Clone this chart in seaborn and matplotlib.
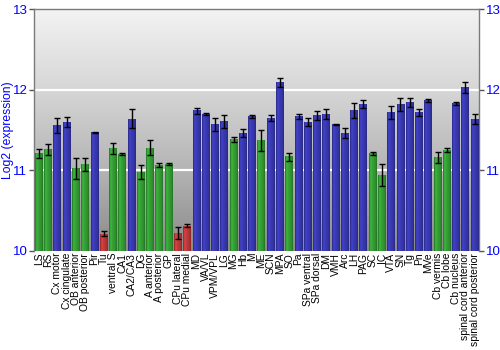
import numpy as np
import pandas as pd
import matplotlib
matplotlib.use("Agg")
import matplotlib.pyplot as plt
import seaborn as sns
from matplotlib.colors import LinearSegmentedColormap, to_rgb

# Brain regions, in plotting order
regions = [
    "LS", "RS", "Cx motor", "Cx cingulate", "OB anterior", "OB posterior", "Pir", "Tu",
    "ventral S", "CA1", "CA2/CA3", "DG", "A anterior", "A posterior", "GP",
    "CPu lateral", "CPu medial", "MD", "VA/VL", "VPM/VPL", "LG", "MG", "Hb", "M",
    "ME", "SCN", "MPA", "SO", "Pa", "SPa ventral", "SPa dorsal", "DM", "VMH", "Arc",
    "LH", "PAG", "SC", "IC", "VTA", "SN", "Tg", "Pn", "MVe", "Cb vermis", "Cb lobe",
    "Cb nucleus", "spinal cord anterior", "spinal cord posterior",
]

# Mean log2 expression per region
expression = [
    11.21, 11.26, 11.56, 11.60, 11.02, 11.07, 11.47, 10.21,
    11.27, 11.20, 11.64, 10.98, 11.28, 11.06, 11.08,
    10.22, 10.31, 11.74, 11.70, 11.57, 11.61, 11.38, 11.46, 11.67,
    11.37, 11.65, 12.09, 11.17, 11.67, 11.60, 11.68, 11.70, 11.57, 11.46,
    11.74, 11.82, 11.21, 10.94, 11.72, 11.82, 11.84, 11.72, 11.87, 11.16, 11.25,
    11.83, 12.03, 11.64,
]

# Standard error per region
sem = [
    0.060, 0.065, 0.095, 0.060, 0.130, 0.085, 0.005, 0.030,
    0.065, 0.015, 0.115, 0.085, 0.095, 0.025, 0.010,
    0.070, 0.017, 0.037, 0.012, 0.077, 0.080, 0.033, 0.050, 0.015,
    0.125, 0.033, 0.055, 0.050, 0.030, 0.050, 0.055, 0.065, 0.007, 0.065,
    0.090, 0.050, 0.020, 0.135, 0.077, 0.080, 0.058, 0.044, 0.020, 0.068, 0.025,
    0.015, 0.064, 0.064,
]

# Expression class of each region
level = [
    "green", "green", "blue", "blue", "green", "green", "blue", "red",
    "green", "green", "blue", "green", "green", "green", "green",
    "red", "red", "blue", "blue", "blue", "blue", "green", "blue", "blue",
    "green", "blue", "blue", "green", "blue", "blue", "blue", "blue", "blue", "blue",
    "blue", "blue", "green", "green", "blue", "blue", "blue", "blue", "blue", "green", "green",
    "blue", "blue", "blue",
]

palette = {"green": "#35a035", "blue": "#3a3ab4", "red": "#c23a3a"}

df = pd.DataFrame({"region": regions, "expression": expression,
                   "sem": sem, "level": level})

sns.set_style("white")
plt.rcParams["font.family"] = ["Liberation Sans", "DejaVu Sans"]

fig = plt.figure(figsize=(5, 3.5), dpi=100)
ax = fig.add_axes([0.0686, 0.2837, 0.89, 0.6897])

# Vertical grey gradient behind the plot
bg = LinearSegmentedColormap.from_list("bg", ["#8a8a8a", "#b4b4b4", "#d6d6d6", "#f3f3f3"])
ax.imshow(np.linspace(0, 1, 256).reshape(-1, 1), cmap=bg, origin="lower",
          extent=[0, 1, 0, 1], transform=ax.transAxes, aspect="auto", zorder=0)

sns.barplot(data=df, x="region", y="expression", hue="level", palette=palette,
            dodge=False, width=0.86, errorbar=None, legend=False, ax=ax,
            saturation=1, zorder=2, linewidth=0)

ax.set_xlim(-0.5, len(regions) - 0.5)
ax.set_ylim(10, 13)

# Horizontal shading across each bar
profile = np.array([0.72, 0.88, 1.05, 1.12, 1.12, 1.08, 1.03, 1.0,
                    0.98, 0.96, 0.94, 0.92, 0.89, 0.86, 0.80, 0.70])
for p in ax.patches:
    h = p.get_height()
    if h <= 0:
        continue
    rgb = np.array(to_rgb(p.get_facecolor()))
    img = np.clip(profile[:, None] * rgb[None, :], 0, 1)[None, :, :]
    x0 = p.get_x()
    ax.imshow(img, extent=[x0, x0 + p.get_width(), 10, p.get_y() + h],
              aspect="auto", zorder=3, interpolation="bilinear")

ax.set_xlim(-0.5, len(regions) - 0.5)
ax.set_ylim(10, 13)

# White grid lines at whole log2 units
for yv in (11, 12):
    ax.axhline(yv, color="white", lw=1.6, zorder=1)

ax.errorbar(np.arange(len(regions)), expression, yerr=sem, fmt="none",
            ecolor="black", elinewidth=1.0, capsize=2.2, capthick=1.0, zorder=4)

ax.set_yticks([10, 11, 12, 13])
ax.tick_params(axis="y", which="both", left=True, right=True, labelleft=True,
               labelright=True, length=3.5, width=1, color="#555555",
               labelcolor="#0000ff", labelsize=9.5, pad=1.5)
ax.tick_params(axis="x", length=0, pad=1.5, labelsize=7.4, labelcolor="black")
ax.set_xticks(range(len(regions)))
ax.set_xticklabels(regions, rotation=90, va="top", ha="center")

ax.set_xlabel("")
ax.set_ylabel("Log2 (expression)", color="#0000ff", fontsize=8.7, va="center")
ax.yaxis.set_label_coords(-0.059, 0.5)

for side in ("left", "right", "top", "bottom"):
    ax.spines[side].set_visible(True)
    ax.spines[side].set_color("#7a7a7a")
    ax.spines[side].set_linewidth(1)
ax.spines["bottom"].set_visible(False)

fig.savefig("out.png", dpi=100)
